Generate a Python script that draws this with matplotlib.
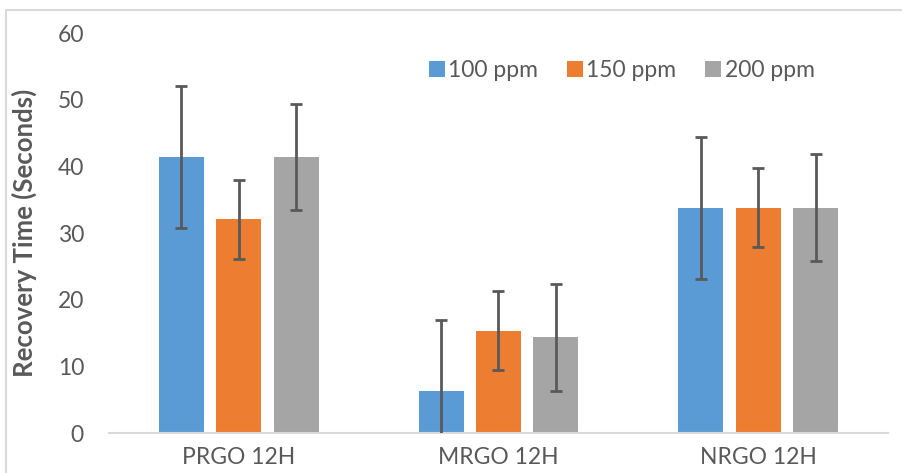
import numpy as np
import matplotlib
matplotlib.use("Agg")
import matplotlib.pyplot as plt
from matplotlib.patches import Rectangle

plt.rcParams['font.family'] = ['Lato', 'DejaVu Sans']

# --- data ---
categories = ['PRGO 12H', 'MRGO 12H', 'NRGO 12H']
series_names = ['100 ppm', '150 ppm', '200 ppm']
vals_100 = [41.4, 6.4, 33.8]
vals_150 = [32.1, 15.4, 33.8]
vals_200 = [41.4, 14.4, 33.8]
err_100 = [10.6, 10.6, 10.6]
err_150 = [5.9, 5.9, 5.9]
err_200 = [8.0, 8.0, 8.0]

colors = ['#5b9bd5', '#ed7d31', '#a5a5a5']
text_gray = '#595959'
line_gray = '#d9d9d9'

fig = plt.figure(figsize=(9.03, 4.73), dpi=100)
ax = fig.add_axes([109 / 903, 1 - 433.3 / 473, 779 / 903, 400.3 / 473])

# outer chart frame (cropped on the right and bottom)
fig.patches.append(Rectangle((5.5 / 903, -0.1), 1.2, 1 - 10.5 / 473 + 0.1,
                             transform=fig.transFigure, fill=False,
                             edgecolor=line_gray, linewidth=1.5))

x = np.arange(len(categories))
width = 0.173
step = 0.221
all_vals = [vals_100, vals_150, vals_200]
all_errs = [err_100, err_150, err_200]

for i, (v, e) in enumerate(zip(all_vals, all_errs)):
    pos = x + (i - 1) * step
    ax.bar(pos, v, width, color=colors[i], label=series_names[i], zorder=2)
    ax.errorbar(pos, v, yerr=e, fmt='none', ecolor=text_gray, elinewidth=2,
                capsize=4.4, capthick=2, zorder=3)

ax.set_xlim(-0.5, 2.5)
ax.set_ylim(0, 60)
ax.set_yticks(range(0, 61, 10))
ax.set_xticks(x)
ax.set_xticklabels(categories)

for s in ['top', 'right', 'left']:
    ax.spines[s].set_visible(False)
ax.spines['bottom'].set_color(line_gray)
ax.spines['bottom'].set_linewidth(1.5)
ax.tick_params(axis='both', length=0, labelsize=16.5, colors=text_gray)
ax.tick_params(axis='y', pad=18)
ax.tick_params(axis='x', pad=10)

ax.set_ylabel('Recovery Time (Seconds)', fontsize=18.5, fontweight='bold',
              color=text_gray)
ax.yaxis.set_label_coords(-(109 - 37) / 779, 0.5)

leg = ax.legend(loc='center left', bbox_to_anchor=(0.384, 0.906), ncol=3,
                frameon=False, fontsize=16.5, handlelength=0.7,
                handleheight=0.7, handletextpad=0.15, columnspacing=1.25)
for t in leg.get_texts():
    t.set_color(text_gray)

fig.savefig('out.png', dpi=100)
